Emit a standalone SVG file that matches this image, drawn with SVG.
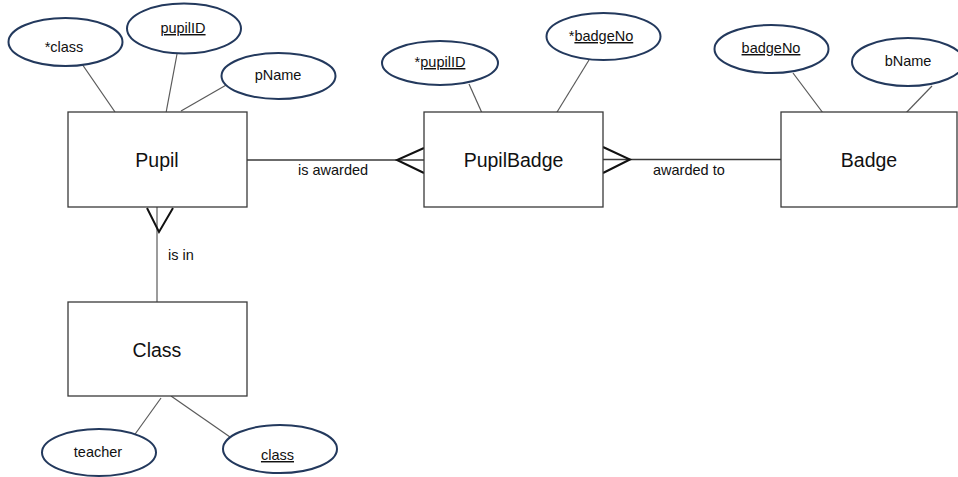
<svg xmlns="http://www.w3.org/2000/svg" width="958" height="477" viewBox="0 0 958 477">
<style>
.box{fill:#fff;stroke:#3a3a3a;stroke-width:1.3}
.att{fill:#fff;stroke:#23395d;stroke-width:2}
.ln{stroke:#5a5a5a;stroke-width:1.2;fill:none}
.rel{stroke:#3a3a3a;stroke-width:1.3;fill:none}
.crow{stroke:#111;stroke-width:2;fill:none;stroke-linejoin:miter}
.t{font-family:"Liberation Sans",Arial,sans-serif;fill:#111}
.title{font-size:19.5px;text-anchor:middle}
.small{font-size:14.5px;text-anchor:middle}
.lab{font-size:14.5px}
.u{text-decoration:underline}
</style>
<rect width="958" height="477" fill="#fff"/>
<g id="connectors">
<line class="ln" x1="82" y1="64" x2="115" y2="112"/>
<line class="ln" x1="177" y1="54" x2="166" y2="113"/>
<line class="ln" x1="228" y1="84" x2="181" y2="111"/>
<line class="ln" x1="469" y1="84" x2="482" y2="113"/>
<line class="ln" x1="589" y1="60" x2="554" y2="117"/>
<line class="ln" x1="793" y1="73" x2="826" y2="117"/>
<line class="ln" x1="932" y1="86" x2="903" y2="116"/>
<line class="ln" x1="161" y1="398" x2="133" y2="437"/>
<line class="ln" x1="171" y1="396" x2="230" y2="437"/>
<line class="rel" x1="247" y1="160" x2="424" y2="160"/>
<polyline class="crow" points="424,148 397,160 424,173"/>
<line class="rel" x1="603" y1="159.5" x2="781" y2="159.5"/>
<polyline class="crow" points="603,147 630,159.5 603,173"/>
<line class="ln" x1="157" y1="207" x2="157" y2="302"/>
<polyline class="crow" points="147,208 159,232 173,208"/>
<text class="t lab" x="298" y="175">is awarded</text>
<text class="t lab" x="653" y="175">awarded to</text>
<text class="t lab" x="168" y="260">is in</text>
</g>
<g id="pupil">
<rect class="box" x="68" y="112" width="179" height="95"/>
<text class="t title" x="157" y="167">Pupil</text>
</g>
<g id="pupilbadge">
<rect class="box" x="424" y="112" width="179" height="95"/>
<text class="t title" x="513.5" y="167">PupilBadge</text>
</g>
<g id="badge">
<rect class="box" x="781" y="112" width="176" height="95"/>
<text class="t title" x="869" y="167">Badge</text>
</g>
<g id="class">
<rect class="box" x="68" y="302" width="179" height="94"/>
<text class="t title" x="157" y="357">Class</text>
</g>
<g id="attr-star-class">
<ellipse class="att" cx="65.5" cy="42" rx="57" ry="24"/>
<text class="t small" x="64" y="52">*class</text>
</g>
<g id="attr-pupilID">
<ellipse class="att" cx="184" cy="28.5" rx="57" ry="25"/>
<text class="t small u" x="183" y="33">pupilID</text>
</g>
<g id="attr-pName">
<ellipse class="att" cx="278.5" cy="76" rx="57" ry="23"/>
<text class="t small" x="278" y="80">pName</text>
</g>
<g id="attr-pb-pupilID">
<ellipse class="att" cx="440" cy="63" rx="58" ry="22"/>
<text class="t small" x="440" y="67">*<tspan class="u">pupilID</tspan></text>
</g>
<g id="attr-pb-badgeNo">
<ellipse class="att" cx="603.5" cy="36.5" rx="57" ry="23.5"/>
<text class="t small" x="601" y="41">*<tspan class="u">badgeNo</tspan></text>
</g>
<g id="attr-badgeNo">
<ellipse class="att" cx="771.5" cy="49" rx="57" ry="24"/>
<text class="t small u" x="771" y="53">badgeNo</text>
</g>
<g id="attr-bName">
<ellipse class="att" cx="908" cy="62" rx="56" ry="24"/>
<text class="t small" x="908" y="66">bName</text>
</g>
<g id="attr-teacher">
<ellipse class="att" cx="99" cy="452.5" rx="57" ry="23.5"/>
<text class="t small" x="98" y="457">teacher</text>
</g>
<g id="attr-class">
<ellipse class="att" cx="280" cy="449" rx="57" ry="24"/>
<text class="t small u" x="277.5" y="460">class</text>
</g>
</svg>
